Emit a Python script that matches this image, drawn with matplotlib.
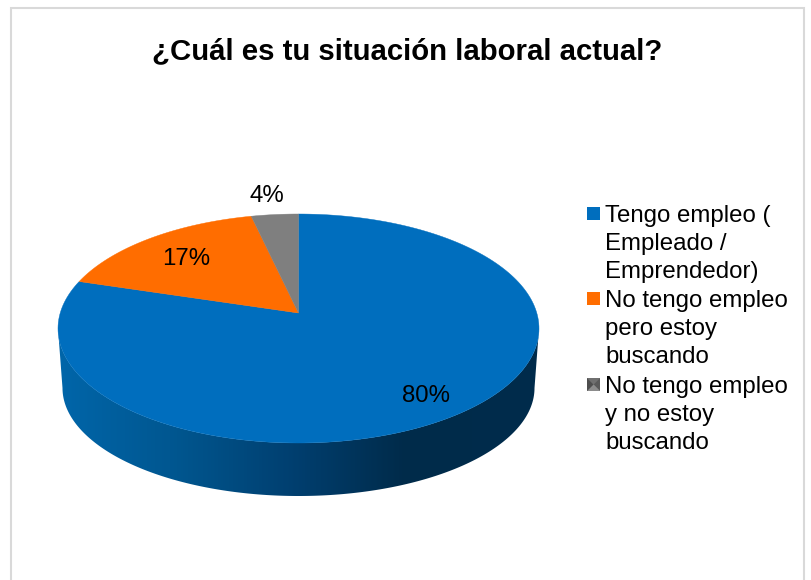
#!/usr/bin/env python3
import matplotlib
matplotlib.use("Agg")
import matplotlib.pyplot as plt
import numpy as np
from matplotlib.colors import LinearSegmentedColormap
from matplotlib.patches import Polygon, Rectangle

plt.rcParams["font.family"] = ["Liberation Sans", "DejaVu Sans"]

TITLE = "¿Cuál es tu situación laboral actual?"
categories = ["Tengo empleo (\nEmpleado /\nEmprendedor)",
              "No tengo empleo\npero estoy\nbuscando",
              "No tengo empleo\ny no estoy\nbuscando"]
# labels in the picture round to 80 / 17 / 4, slice sizes
values = [79.7, 16.7, 3.6]
colors = ["#006EBE", "#FF6D00", "#7F7F7F"]

# pie geometry in pixels, 3D look comes from a projective squash of the circle
CX, APEX_Y = 298.5, 313
TOP, BOTTOM = 214, 443
TILT = (APEX_Y * 2 - TOP - BOTTOM) / (TOP - BOTTOM)
YK = TOP * (1 + TILT) - APEX_Y
XK = 240.5 * np.sqrt(1 - TILT ** 2)


def project(theta):
    u, v = np.cos(theta), np.sin(theta)
    w = 1 + TILT * v
    return CX + XK * u / w, (YK * v + APEX_Y) / w


def slice_poly(t1, t2):
    t = np.linspace(t1, t2, 200)
    x, y = project(t)
    return np.column_stack([np.r_[CX, x], np.r_[APEX_Y, y]])


fig = plt.figure(figsize=(8.11, 5.8), dpi=100)
ax = fig.add_axes([0, 0, 1, 1])
ax.set_xlim(0, 811)
ax.set_ylim(580, 0)
ax.axis("off")

# chart frame
ax.add_patch(Rectangle((10.5, 8), 793.5, 590, fc="white", ec="#D9D9D9", lw=1.5))

# side wall: gradient clipped between the front edges of top and bottom ellipse
t = np.linspace(np.pi, 2 * np.pi, 300)
xt, yt = project(t)
# widest points of the top face sit below the apex, start the wall there
i0, i1 = np.argmin(xt), np.argmax(xt)
xt, yt = xt[i0:i1 + 1], yt[i0:i1 + 1]
xb = CX + 236 * np.cos(t)
yb = 388 - 108 * np.sin(t)
side = np.column_stack([np.r_[xt, xb[::-1]], np.r_[yt, yb[::-1]]])
wall = LinearSegmentedColormap.from_list(
    "wall", [(0, "#0066AA"), (0.25, "#00568F"), (0.5, "#003E6E"),
             (0.72, "#002B4A"), (1, "#002C4C")])
im = ax.imshow(np.linspace(0, 1, 480)[None, :], cmap=wall, aspect="auto",
               extent=(56, 541, 500, 320), zorder=2)
clip = Polygon(side, closed=True, transform=ax.transData, fc="none", ec="none")
ax.add_patch(clip)
im.set_clip_path(clip)
ax.set_xlim(0, 811)
ax.set_ylim(580, 0)

# top face, clockwise from 12 o'clock
fracs = np.array(values) / sum(values)
start = np.pi / 2
for frac, col in zip(fracs, colors):
    end = start - frac * 2 * np.pi
    ax.add_patch(Polygon(slice_poly(start, end), closed=True, fc=col, ec=col,
                         lw=0.3, zorder=3))
    start = end

# data labels
label_pos = [(426, 396), (186, 259), (267, 196)]
for val, (lx, ly) in zip(values, label_pos):
    ax.text(lx, ly, f"{val:.0f}%", ha="center", va="center", fontsize=17.3,
            color="black", zorder=5)

ax.text(407, 51, TITLE, ha="center", va="center", fontsize=21.2,
        fontweight="bold", color="black")

# legend
legend_y = [207, 292, 378]
for name, col, ly in zip(categories, colors, legend_y):
    ax.add_patch(Rectangle((587, ly), 13, 13, fc=col, ec="none", zorder=4))
    ax.text(605, ly - 2, name, ha="left", va="top", fontsize=17.3,
            linespacing=1.34, color="black")
# grey key has a bevelled look
kx, ky = 587, legend_y[2]
mid = (kx + 6.5, ky + 6.5)
corners = [(kx, ky), (kx + 13, ky), (kx + 13, ky + 13), (kx, ky + 13)]
for i, shade in enumerate(["#707070", "#5A5A5A", "#8C8C8C", "#4E4E4E"]):
    ax.add_patch(Polygon([corners[i], corners[(i + 1) % 4], mid], closed=True,
                         fc=shade, ec="none", zorder=5))

fig.savefig("out.png", dpi=100)
